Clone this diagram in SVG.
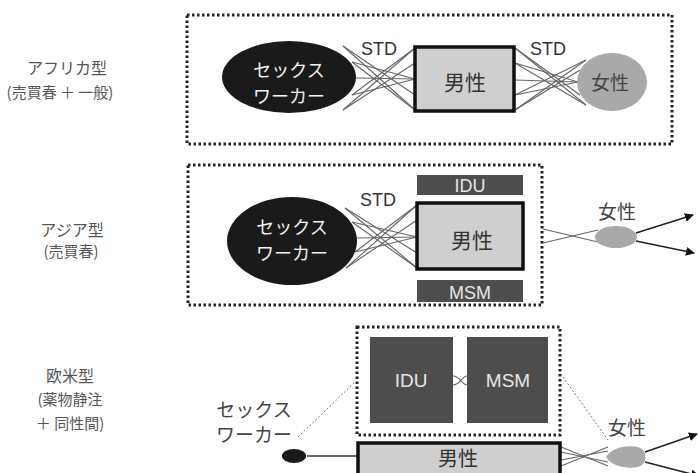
<svg xmlns="http://www.w3.org/2000/svg" width="699" height="473" viewBox="0 0 699 473">
<defs>
<style>
.lbl{font-family:"Noto Sans CJK JP","Liberation Sans",sans-serif;font-size:16px;fill:#555;text-anchor:middle}
.dot{fill:none;stroke:#222;stroke-width:3;stroke-dasharray:2.5 2.5}
.sw{fill:#1a1a1a}
.swt{font-family:"Noto Sans CJK JP",sans-serif;font-size:18px;fill:#f2f2f2;text-anchor:middle}
.male{fill:#cfcfcf;stroke:#111;stroke-width:3.5}
.mt{font-family:"Noto Sans CJK JP",sans-serif;font-size:21px;fill:#333;text-anchor:middle}
.fem{fill:#a9a9a9}
.ft{font-family:"Noto Sans CJK JP",sans-serif;font-size:19px;fill:#444;text-anchor:middle}
.std{font-family:"Liberation Sans",Arial,sans-serif;font-size:18px;fill:#333;text-anchor:middle}
.grp{fill:#4d4d4d}
.gt{font-family:"Liberation Sans",Arial,sans-serif;font-size:18px;fill:#e6e6e6;text-anchor:middle}
.ln{stroke:#666;stroke-width:1.1;fill:none}
.arr{stroke:#222;stroke-width:1.6;fill:none;marker-end:url(#ah)}
.thin{stroke:#777;stroke-width:1;stroke-dasharray:2 2;fill:none}
</style>
<marker id="ah" viewBox="0 0 10 10" refX="9" refY="5" markerWidth="9" markerHeight="9" markerUnits="userSpaceOnUse" orient="auto">
<path d="M0,0 L10,5 L0,10 z" fill="#111"/>
</marker>
</defs>
<rect width="699" height="473" fill="#fff"/>

<g id="labels">
<text class="lbl" x="67" y="74">アフリカ型</text>
<text class="lbl" x="60" y="98" style="font-size:15px">(売買春 ＋ 一般)</text>
<text class="lbl" x="72" y="236">アジア型</text>
<text class="lbl" x="71" y="257" style="font-size:15px">(売買春)</text>
<text class="lbl" x="70" y="382">欧米型</text>
<text class="lbl" x="70" y="405" style="font-size:15px">(薬物静注</text>
<text class="lbl" x="70" y="429" style="font-size:15px">＋ 同性間)</text>
</g>

<g id="panel1-box"><rect class="dot" x="187" y="15" width="485" height="129"/></g>
<g id="panel2-box"><rect class="dot" x="188" y="165" width="354" height="140"/></g>
<g id="panel3-box"><rect class="dot" x="357" y="327" width="203" height="108"/></g>

<g id="connectors">
<line class="ln" x1="343" y1="46" x2="415" y2="95"/>
<line class="ln" x1="343" y1="46" x2="415" y2="110"/>
<line class="ln" x1="352" y1="62" x2="415" y2="110"/>
<line class="ln" x1="352" y1="62" x2="415" y2="79"/>
<line class="ln" x1="356" y1="78" x2="415" y2="79"/>
<line class="ln" x1="352" y1="95" x2="415" y2="79"/>
<line class="ln" x1="352" y1="95" x2="415" y2="48"/>
<line class="ln" x1="343" y1="110" x2="415" y2="48"/>
<line class="ln" x1="343" y1="110" x2="415" y2="63"/>
<line class="ln" x1="515" y1="48" x2="580" y2="95"/>
<line class="ln" x1="515" y1="48" x2="586" y2="105"/>
<line class="ln" x1="515" y1="63" x2="586" y2="105"/>
<line class="ln" x1="515" y1="63" x2="578" y2="82"/>
<line class="ln" x1="515" y1="80" x2="578" y2="82"/>
<line class="ln" x1="515" y1="95" x2="578" y2="82"/>
<line class="ln" x1="515" y1="95" x2="586" y2="60"/>
<line class="ln" x1="515" y1="110" x2="586" y2="60"/>
<line class="ln" x1="515" y1="110" x2="580" y2="70"/>
<line class="ln" x1="345" y1="208" x2="417" y2="253"/>
<line class="ln" x1="345" y1="208" x2="417" y2="268"/>
<line class="ln" x1="352" y1="222" x2="417" y2="268"/>
<line class="ln" x1="352" y1="222" x2="417" y2="237"/>
<line class="ln" x1="357" y1="238" x2="417" y2="237"/>
<line class="ln" x1="355" y1="252" x2="417" y2="237"/>
<line class="ln" x1="355" y1="252" x2="417" y2="205"/>
<line class="ln" x1="346" y1="268" x2="417" y2="205"/>
<line class="ln" x1="346" y1="268" x2="417" y2="220"/>
<line class="ln" x1="543" y1="229" x2="598" y2="242"/>
<line class="ln" x1="543" y1="243" x2="598" y2="230"/>
<line class="arr" x1="636" y1="233" x2="693" y2="215"/>
<line class="arr" x1="636" y1="241" x2="694" y2="253"/>
<path class="ln" d="M453,376 C460,376 462,385 467,385 M453,385 C460,385 462,376 467,376"/>
<line class="thin" x1="298" y1="437" x2="355" y2="382"/>
<line class="thin" x1="563" y1="377" x2="608" y2="440"/>
<line class="ln" x1="307" y1="456" x2="357" y2="456" style="stroke:#333;stroke-width:1.4"/>
<line class="ln" x1="561" y1="447" x2="608" y2="466"/>
<line class="ln" x1="561" y1="452" x2="608" y2="462"/>
<line class="ln" x1="561" y1="460" x2="608" y2="451"/>
<line class="ln" x1="561" y1="466" x2="608" y2="447"/>
<line class="arr" x1="645" y1="452" x2="697" y2="434"/>
<line class="arr" x1="645" y1="462" x2="699" y2="476"/>
</g>

<g id="p1-sexworker"><ellipse class="sw" cx="289" cy="77" rx="67" ry="36"/>
<text class="swt" x="289" y="77">セックス</text><text class="swt" x="289" y="103">ワーカー</text></g>
<g id="p1-std1"><text class="std" x="379" y="55">STD</text></g>
<g id="p1-male"><rect class="male" x="415" y="47" width="99" height="64"/><text class="mt" x="465" y="90">男性</text></g>
<g id="p1-std2"><text class="std" x="548" y="55">STD</text></g>
<g id="p1-female"><ellipse class="fem" cx="612" cy="82" rx="35" ry="29"/><text class="ft" x="610" y="90">女性</text></g>

<g id="p2-sexworker"><ellipse class="sw" cx="292" cy="241" rx="65" ry="44"/>
<text class="swt" x="292" y="234">セックス</text><text class="swt" x="292" y="260">ワーカー</text></g>
<g id="p2-std"><text class="std" x="378" y="206">STD</text></g>
<g id="p2-idu"><rect class="grp" x="417" y="175" width="106" height="20"/><text class="gt" x="470" y="192">IDU</text></g>
<g id="p2-male"><rect class="male" x="417" y="203" width="106" height="66"/><text class="mt" x="472" y="248">男性</text></g>
<g id="p2-msm"><rect class="grp" x="417" y="280" width="106" height="22"/><text class="gt" x="470" y="299">MSM</text></g>
<g id="p2-female"><ellipse class="fem" cx="616" cy="237" rx="21" ry="11"/><text class="ft" x="617" y="219">女性</text></g>

<g id="p3-idu"><rect class="grp" x="370" y="337" width="83" height="86"/><text class="gt" x="411" y="387" style="font-size:19px">IDU</text></g>
<g id="p3-msm"><rect class="grp" x="467" y="337" width="81" height="86"/><text class="gt" x="508" y="387" style="font-size:19px">MSM</text></g>
<g id="p3-sexworker"><text class="ft" x="254" y="417">セックス</text><text class="ft" x="254" y="442">ワーカー</text>
<ellipse class="sw" cx="294" cy="456" rx="12" ry="7"/></g>
<g id="p3-male"><rect class="male" x="358" y="443" width="202" height="34"/><text class="mt" x="458" y="466" style="font-size:20px">男性</text></g>
<g id="p3-female"><path class="fem" d="M606,457 C612,447 628,445 638,447 C648,450 648,464 638,467 C628,469 612,467 606,457 z"/><text class="ft" x="627" y="435">女性</text></g>
</svg>
